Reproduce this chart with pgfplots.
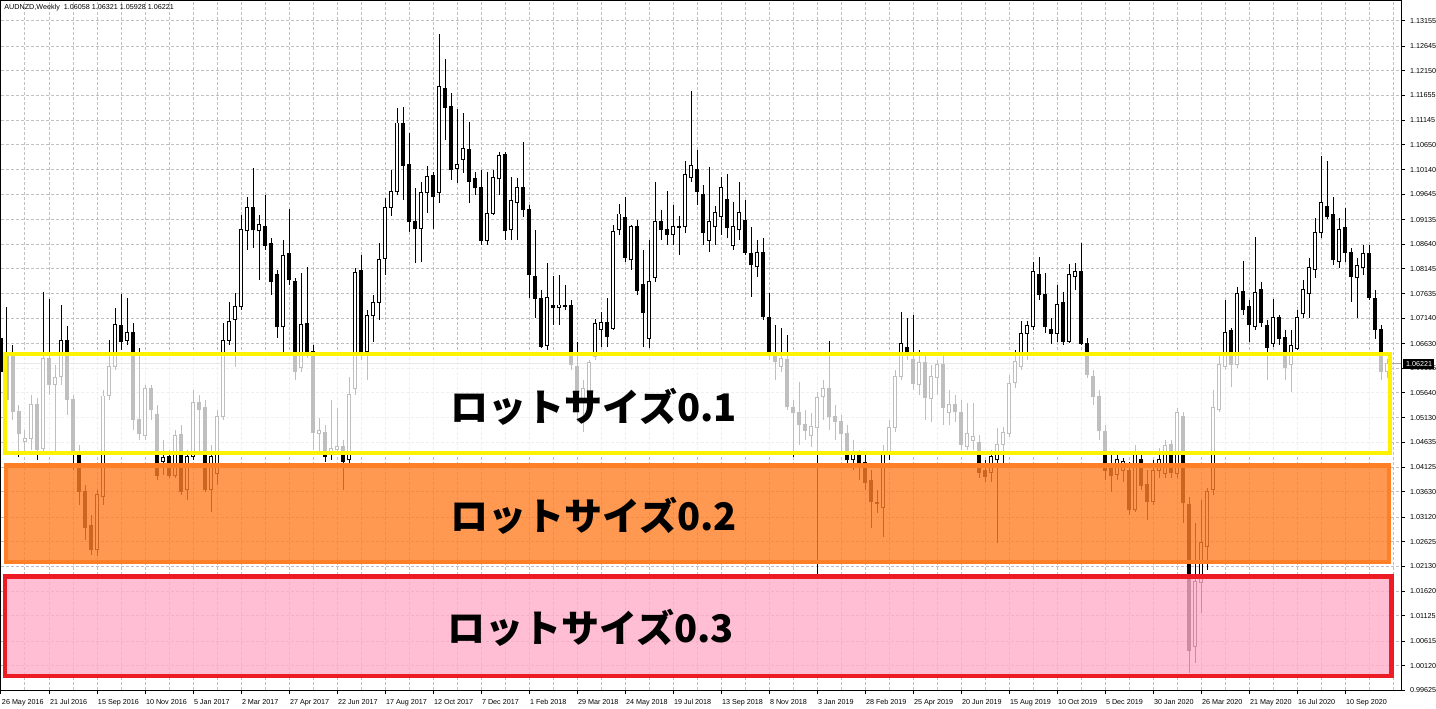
\documentclass[border=0pt]{standalone}
\usepackage{fontspec}
\setmainfont{Liberation Sans}
\newfontfamily\jp{Noto Sans CJK JP}
\usepackage{pgfplots}
\pgfplotsset{compat=1.18}
\usepackage{pgfplotstable}
\definecolor{ylw}{HTML}{FFF200}
\definecolor{org}{HTML}{FF7F27}
\definecolor{rd}{HTML}{ED1C24}
\definecolor{pnk}{HTML}{FFAEC9}
\definecolor{grd}{HTML}{C0C0C0}

\pgfplotstableread{
i O H L C
0 1.0674 1.0776 1.0579 1.0606
1 1.0640 1.0737 1.0519 1.0549
2 1.0640 1.0660 1.0509 1.0525
3 1.0525 1.0539 1.0434 1.0482
4 1.0464 1.0488 1.0444 1.0472
5 1.0472 1.0559 1.0448 1.0539
6 1.0539 1.0553 1.0428 1.0448
7 1.0450 1.0767 1.0438 1.0632
8 1.0632 1.0753 1.0559 1.0581
9 1.0581 1.0620 1.0442 1.0594
10 1.0596 1.0741 1.0579 1.0670
11 1.0670 1.0699 1.0519 1.0549
12 1.0549 1.0559 1.0407 1.0438
13 1.0438 1.0458 1.0337 1.0363
14 1.0363 1.0377 1.0266 1.0292
15 1.0296 1.0317 1.0236 1.0246
16 1.0246 1.0367 1.0234 1.0357
17 1.0353 1.0569 1.0337 1.0557
18 1.0559 1.0670 1.0549 1.0616
19 1.0616 1.0735 1.0610 1.0701
20 1.0699 1.0763 1.0650 1.0668
21 1.0670 1.0755 1.0660 1.0686
22 1.0686 1.0705 1.0488 1.0509
23 1.0509 1.0654 1.0468 1.0482
24 1.0478 1.0579 1.0468 1.0573
25 1.0573 1.0579 1.0509 1.0529
26 1.0519 1.0539 1.0387 1.0397
27 1.0424 1.0468 1.0397 1.0432
28 1.0434 1.0448 1.0391 1.0397
29 1.0397 1.0488 1.0391 1.0478
30 1.0480 1.0499 1.0357 1.0363
31 1.0367 1.0448 1.0347 1.0434
32 1.0434 1.0569 1.0428 1.0543
33 1.0543 1.0559 1.0438 1.0529
34 1.0533 1.0549 1.0363 1.0367
35 1.0367 1.0458 1.0323 1.0434
36 1.0401 1.0529 1.0377 1.0515
37 1.0515 1.0705 1.0509 1.0670
38 1.0670 1.0747 1.0660 1.0707
39 1.0711 1.0765 1.0616 1.0737
40 1.0737 1.0923 1.0731 1.0893
41 1.0891 1.0960 1.0852 1.0939
42 1.0939 1.1018 1.0856 1.0893
43 1.0891 1.0923 1.0792 1.0903
44 1.0899 1.0964 1.0852 1.0862
45 1.0866 1.0876 1.0761 1.0788
46 1.0802 1.0812 1.0674 1.0697
47 1.0697 1.0872 1.0646 1.0842
48 1.0846 1.0935 1.0782 1.0792
49 1.0788 1.0796 1.0589 1.0606
50 1.0614 1.0806 1.0606 1.0701
51 1.0703 1.0818 1.0634 1.0644
52 1.0646 1.0660 1.0448 1.0484
53 1.0482 1.0513 1.0442 1.0488
54 1.0484 1.0499 1.0424 1.0434
55 1.0444 1.0549 1.0428 1.0450
56 1.0448 1.0533 1.0438 1.0454
57 1.0454 1.0468 1.0367 1.0424
58 1.0428 1.0596 1.0418 1.0561
59 1.0573 1.0816 1.0559 1.0806
60 1.0810 1.0842 1.0630 1.0646
61 1.0646 1.0731 1.0589 1.0719
62 1.0719 1.0761 1.0666 1.0747
63 1.0747 1.0866 1.0711 1.0832
64 1.0836 1.0957 1.0802 1.0939
65 1.0939 1.1014 1.0921 1.0970
66 1.0970 1.1139 1.0964 1.1109
67 1.1109 1.1141 1.0953 1.1024
68 1.1026 1.1089 1.0889 1.0909
69 1.0909 1.0978 1.0826 1.0895
70 1.0895 1.0990 1.0828 1.0968
71 1.0968 1.1022 1.0927 1.1000
72 1.1002 1.1010 1.0895 1.0960
73 1.0968 1.1289 1.0947 1.1182
74 1.1178 1.1238 1.1075 1.1141
75 1.1143 1.1170 1.0994 1.1014
76 1.1018 1.1137 1.0988 1.1026
77 1.1036 1.1129 1.1008 1.1058
78 1.1056 1.1111 1.0947 1.0990
79 1.0996 1.1010 1.0964 1.0978
80 1.0978 1.1014 1.0862 1.0872
81 1.0872 1.1010 1.0862 1.0927
82 1.0927 1.1014 1.0923 1.0998
83 1.0996 1.1050 1.0964 1.1044
84 1.1046 1.1050 1.0872 1.0891
85 1.0893 1.1000 1.0872 1.0953
86 1.0949 1.0998 1.0872 1.0978
87 1.0978 1.1071 1.0919 1.0935
88 1.0935 1.0943 1.0755 1.0802
89 1.0798 1.0893 1.0715 1.0755
90 1.0755 1.0771 1.0654 1.0658
91 1.0660 1.0826 1.0650 1.0757
92 1.0741 1.0800 1.0701 1.0735
93 1.0735 1.0802 1.0701 1.0741
94 1.0737 1.0782 1.0731 1.0739
95 1.0739 1.0751 1.0610 1.0620
96 1.0616 1.0666 1.0505 1.0563
97 1.0549 1.0589 1.0484 1.0573
98 1.0555 1.0630 1.0529 1.0624
99 1.0636 1.0713 1.0630 1.0703
100 1.0692 1.0727 1.0656 1.0705
101 1.0705 1.0755 1.0656 1.0678
102 1.0694 1.0903 1.0690 1.0889
103 1.0893 1.0945 1.0883 1.0925
104 1.0917 1.0960 1.0828 1.0838
105 1.0832 1.0903 1.0812 1.0899
106 1.0899 1.0913 1.0761 1.0771
107 1.0782 1.0852 1.0656 1.0725
108 1.0674 1.0872 1.0654 1.0788
109 1.0796 1.0990 1.0788 1.0909
110 1.0909 1.0933 1.0872 1.0893
111 1.0893 1.0972 1.0862 1.0883
112 1.0883 1.0943 1.0862 1.0899
113 1.0897 1.0921 1.0842 1.0899
114 1.0899 1.1032 1.0887 1.1004
115 1.0998 1.1174 1.0990 1.1024
116 1.1016 1.1054 1.0943 1.0970
117 1.0964 1.0984 1.0862 1.0887
118 1.0872 1.1020 1.0848 1.0909
119 1.0899 1.0941 1.0862 1.0929
120 1.0919 1.1000 1.0883 1.0978
121 1.0955 1.1006 1.0876 1.0897
122 1.0862 1.0949 1.0852 1.0899
123 1.0893 1.0990 1.0872 1.0929
124 1.0911 1.0953 1.0842 1.0848
125 1.0846 1.0899 1.0757 1.0822
126 1.0818 1.0872 1.0798 1.0848
127 1.0848 1.0876 1.0711 1.0717
128 1.0715 1.0765 1.0630 1.0640
129 1.0636 1.0701 1.0589 1.0626
130 1.0616 1.0694 1.0606 1.0632
131 1.0630 1.0680 1.0529 1.0535
132 1.0533 1.0549 1.0434 1.0523
133 1.0523 1.0585 1.0458 1.0499
134 1.0499 1.0529 1.0468 1.0488
135 1.0478 1.0523 1.0454 1.0495
136 1.0493 1.0565 1.0197 1.0553
137 1.0555 1.0589 1.0509 1.0573
138 1.0573 1.0668 1.0488 1.0515
139 1.0515 1.0539 1.0468 1.0505
140 1.0505 1.0519 1.0438 1.0482
141 1.0482 1.0499 1.0412 1.0428
142 1.0428 1.0468 1.0407 1.0438
143 1.0438 1.0448 1.0387 1.0412
144 1.0422 1.0438 1.0367 1.0383
145 1.0387 1.0407 1.0290 1.0343
146 1.0339 1.0367 1.0321 1.0341
147 1.0331 1.0458 1.0272 1.0444
148 1.0438 1.0509 1.0428 1.0493
149 1.0493 1.0610 1.0484 1.0596
150 1.0596 1.0727 1.0589 1.0664
151 1.0656 1.0715 1.0630 1.0644
152 1.0630 1.0721 1.0569 1.0583
153 1.0581 1.0650 1.0559 1.0624
154 1.0624 1.0640 1.0509 1.0553
155 1.0551 1.0620 1.0505 1.0596
156 1.0594 1.0630 1.0559 1.0620
157 1.0620 1.0640 1.0499 1.0533
158 1.0523 1.0569 1.0499 1.0539
159 1.0539 1.0559 1.0505 1.0525
160 1.0523 1.0549 1.0448 1.0458
161 1.0454 1.0543 1.0448 1.0482
162 1.0468 1.0543 1.0448 1.0476
163 1.0462 1.0478 1.0391 1.0403
164 1.0407 1.0428 1.0383 1.0395
165 1.0403 1.0448 1.0383 1.0434
166 1.0428 1.0493 1.0260 1.0458
167 1.0458 1.0495 1.0418 1.0484
168 1.0482 1.0600 1.0474 1.0583
169 1.0585 1.0650 1.0573 1.0626
170 1.0616 1.0709 1.0610 1.0684
171 1.0684 1.0709 1.0630 1.0699
172 1.0697 1.0828 1.0690 1.0808
173 1.0802 1.0838 1.0751 1.0763
174 1.0763 1.0806 1.0684 1.0697
175 1.0692 1.0715 1.0662 1.0684
176 1.0684 1.0782 1.0666 1.0743
177 1.0747 1.0767 1.0660 1.0668
178 1.0668 1.0824 1.0664 1.0802
179 1.0798 1.0826 1.0771 1.0808
180 1.0808 1.0866 1.0660 1.0664
181 1.0664 1.0674 1.0594 1.0600
182 1.0596 1.0610 1.0539 1.0555
183 1.0555 1.0569 1.0468 1.0488
184 1.0486 1.0499 1.0387 1.0407
185 1.0412 1.0438 1.0363 1.0397
186 1.0399 1.0442 1.0387 1.0428
187 1.0407 1.0432 1.0383 1.0424
188 1.0407 1.0424 1.0317 1.0327
189 1.0327 1.0458 1.0323 1.0438
190 1.0428 1.0438 1.0367 1.0377
191 1.0379 1.0407 1.0306 1.0343
192 1.0343 1.0428 1.0337 1.0407
193 1.0407 1.0452 1.0391 1.0428
194 1.0401 1.0468 1.0391 1.0456
195 1.0458 1.0468 1.0391 1.0403
196 1.0401 1.0533 1.0391 1.0523
197 1.0515 1.0525 1.0300 1.0341
198 1.0337 1.0353 0.9996 1.0043
199 1.0050 1.0300 1.0017 1.0181
200 1.0179 1.0347 1.0118 1.0260
201 1.0252 1.0371 1.0205 1.0363
202 1.0367 1.0569 1.0357 1.0533
203 1.0529 1.0646 1.0525 1.0620
204 1.0616 1.0751 1.0610 1.0686
205 1.0690 1.0694 1.0575 1.0620
206 1.0620 1.0777 1.0614 1.0765
207 1.0769 1.0830 1.0721 1.0731
208 1.0737 1.0751 1.0666 1.0701
209 1.0697 1.0878 1.0690 1.0767
210 1.0773 1.0788 1.0697 1.0705
211 1.0699 1.0711 1.0589 1.0656
212 1.0664 1.0753 1.0656 1.0715
213 1.0715 1.0721 1.0660 1.0674
214 1.0676 1.0690 1.0589 1.0614
215 1.0620 1.0690 1.0565 1.0660
216 1.0654 1.0731 1.0650 1.0715
217 1.0723 1.0792 1.0715 1.0773
218 1.0765 1.0836 1.0715 1.0816
219 1.0812 1.0917 1.0796 1.0887
220 1.0887 1.1042 1.0876 1.0949
221 1.0941 1.1032 1.0915 1.0919
222 1.0925 1.0960 1.0822 1.0832
223 1.0828 1.0917 1.0816 1.0893
224 1.0897 1.0937 1.0828 1.0848
225 1.0848 1.0856 1.0747 1.0798
226 1.0796 1.0836 1.0715 1.0820
227 1.0816 1.0862 1.0802 1.0846
228 1.0846 1.0862 1.0751 1.0757
229 1.0755 1.0771 1.0672 1.0692
230 1.0692 1.0701 1.0589 1.0606
231 1.06058 1.06321 1.05928 1.06221
}\candles

\begin{document}
\begin{tikzpicture}
\useasboundingbox (0,0) rectangle (718pt,354pt);
\begin{axis}[
  at={(0.5pt,9pt)}, anchor=south west,
  scale only axis, width=700pt, height=344.5pt,
  xmin=0, xmax=233.333, ymin=0.99625, ymax=1.13557,
  axis line style={black, line width=0.5pt},
  xtick={0,8,...,224},
  minor xtick={4,12,...,228,232},
  xticklabels={26 May 2016, 21 Jul 2016, 15 Sep 2016, 10 Nov 2016, 5 Jan 2017, 2 Mar 2017, 27 Apr 2017, 22 Jun 2017, 17 Aug 2017, 12 Oct 2017, 7 Dec 2017, 1 Feb 2018, 29 Mar 2018, 24 May 2018, 19 Jul 2018, 13 Sep 2018, 8 Nov 2018, 3 Jan 2019, 28 Feb 2019, 25 Apr 2019, 20 Jun 2019, 15 Aug 2019, 10 Oct 2019, 5 Dec 2019, 30 Jan 2020, 26 Mar 2020, 21 May 2020, 16 Jul 2020, 10 Sep 2020},
  ytick={0.99625,1.00120,1.00615,1.01125,1.01620,1.02130,1.02625,1.03120,1.03630,1.04125,1.04635,1.05130,1.05640,1.06135,1.06630,1.07140,1.07635,1.08145,1.08640,1.09135,1.09645,1.10140,1.10650,1.11145,1.11655,1.12150,1.12645,1.13155},
  yticklabels={0.99625,1.00120,1.00615,1.01125,1.01620,1.02130,1.02625,1.03120,1.03630,1.04125,1.04635,1.05130,1.05640,1.06135,1.06630,1.07140,1.07635,1.08145,1.08640,1.09135,1.09645,1.10140,1.10650,1.11145,1.11655,1.12150,1.12645,1.13155},
  xtick pos=left, ytick pos=right, yticklabel pos=right,
  tick align=outside,
  major tick length=2pt, minor tick length=0pt,
  tick style={black, line width=0.5pt},
  grid=both,
  grid style={grd, dash pattern=on 1.5pt off 1pt, line width=0.5pt},
  ticklabel style={font=\fontsize{3.6pt}{4pt}\selectfont, inner sep=0pt},
  xticklabel style={anchor=north west, xshift=0.3pt},
  yticklabel style={anchor=west},
  xticklabel shift=2.6pt,
  yticklabel shift=2.4pt,
]
\addplot[black!35, line width=0.5pt] coordinates {(0,1.06221) (233.333,1.06221)};
% wicks
\addplot[draw=none, mark=none, forget plot,
  error bars/.cd, y dir=both, y explicit, error mark=none,
  error bar style={black, line width=0.5pt, line cap=butt}]
  table[x=i, y=C, y error plus expr=\thisrow{H}-\thisrow{C}, y error minus expr=\thisrow{C}-\thisrow{L}] \candles;
% bodies (outline / bear fill)
\addplot[draw=none, mark=none, forget plot,
  error bars/.cd, y dir=plus, y explicit, error mark=none,
  error bar style={black, line width=1.8pt, line cap=butt}]
  table[x=i, y expr={min(\thisrow{O},\thisrow{C})-0.0001}, y error plus expr={abs(\thisrow{O}-\thisrow{C})+0.0002}] \candles;
% bull bodies (white inside)
\addplot[draw=none, mark=none, forget plot,
  error bars/.cd, y dir=plus, y explicit, error mark=none,
  error bar style={white, line width=0.8pt, line cap=butt}]
  table[x=i, y expr={\thisrow{O}+0.0001}, y error plus expr={max(\thisrow{C}-\thisrow{O}-0.0002,0)}] \candles;
\end{axis}
% overlay boxes
\fill[white, opacity=0.75] (2.35pt,127.35pt) rectangle (694.85pt,177.15pt);
\draw[ylw, line width=2pt] (2.35pt,127.35pt) rectangle (694.85pt,177.15pt);
\fill[org, opacity=0.8] (3pt,73pt) rectangle (694.5pt,121.25pt);
\draw[org, line width=2.1pt] (3pt,73pt) rectangle (694.5pt,121.25pt);
\fill[pnk, opacity=0.8] (2.5pt,16.1pt) rectangle (695.85pt,65.65pt);
\draw[rd, line width=2.3pt] (2.5pt,16.1pt) rectangle (695.85pt,65.65pt);
\node[anchor=base west, inner sep=0pt, font={\jp\bfseries\fontsize{19pt}{22pt}\selectfont}] at (225pt,143pt) {ロットサイズ0.1};
\node[anchor=base west, inner sep=0pt, font={\jp\bfseries\fontsize{19pt}{22pt}\selectfont}] at (225pt,89pt) {ロットサイズ0.2};
\node[anchor=base west, inner sep=0pt, font={\jp\bfseries\fontsize{19pt}{22pt}\selectfont}] at (223.5pt,33pt) {ロットサイズ0.3};
% title
\node[anchor=west, inner sep=0pt, font=\fontsize{3.6pt}{4pt}\selectfont] at (2pt,350.25pt) {AUDNZD,Weekly\ \ 1.06058 1.06321 1.05928 1.06221};
% current price box
\fill[black] (701.35pt,169.25pt) rectangle (717.15pt,174.25pt);
\node[white, anchor=west, inner sep=0pt, font=\fontsize{3.6pt}{4pt}\selectfont] at (702.9pt,171.75pt) {1.06221};
\end{tikzpicture}
\end{document}
